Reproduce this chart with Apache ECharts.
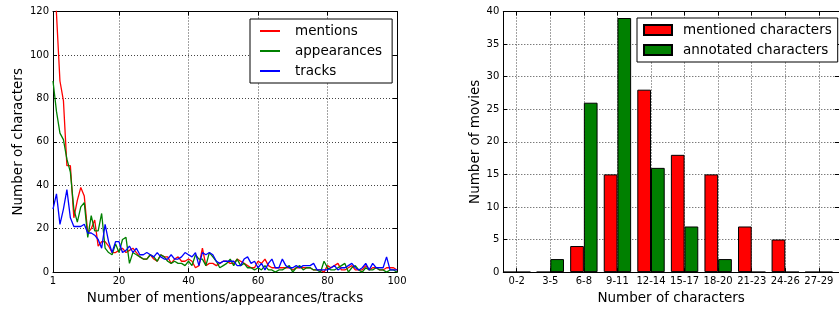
<!DOCTYPE html>
<html><head><meta charset="utf-8">
<script src="https://cdn.jsdelivr.net/npm/echarts@6/dist/echarts.min.js"></script>
<style>html,body{margin:0;padding:0;background:#fff}#c{width:839px;height:310px}</style>
</head><body><div id="c"></div><script>
// Left chart: number of characters vs count (x = 1..100)
const mentions = [165,119,88,79,49,49,25,33,39,35,18,20,24,12,14,14,12,9,9,10,
  11,9,10,11,9,7,6,6,8,6,5,8,7,7,4,6,7,5,5,6,
  5,2,3,11,3,4,4,3,4,5,5,4,4,6,5,4,3,2,2,5,
  4,6,3,2,2,2,2,2,2,1,2,2,2,2,2,1,1,1,0,3,
  2,3,4,1,1,2,3,1,1,1,3,1,2,2,1,1,2,2,2,1];
const appearances = [88,74,64,61,52,46,29,23,30,32,16,26,19,19,27,11,9,8,13,9,
  15,16,4,9,8,7,6,6,8,7,5,8,7,5,4,5,4,4,3,5,
  3,8,6,6,3,9,7,5,2,3,4,6,3,6,3,4,2,2,1,2,
  1,3,1,1,0,1,1,2,3,0,2,3,1,2,2,1,1,0,5,2,
  1,1,2,3,4,0,2,3,1,0,2,1,1,2,1,1,0,1,1,0];
const tracks = [29,36,22,29,38,25,21,21,21,22,18,18,17,15,11,22,14,9,14,14,
  9,10,12,9,11,8,8,9,8,7,9,7,6,6,8,6,6,7,9,8,
  7,9,3,9,8,9,8,5,4,5,5,5,5,3,3,6,7,4,5,2,
  4,1,4,6,2,2,6,3,2,2,3,2,3,3,3,4,1,1,1,1,
  2,3,1,2,2,3,4,2,1,2,4,1,4,2,2,2,7,1,1,1];
const countTicks = [1,20,40,60,80,100];
const leftYTicks = {min:0, max:120, interval:20};

// Right chart: number of movies per character-count bin
const bins = ['0-2','3-5','6-8','9-11','12-14','15-17','18-20','21-23','24-26','27-29'];
const mentionedChars = [0,0,4,15,28,18,15,7,5,0];
const annotatedChars = [0,2,26,39,16,7,2,0,0,0];
const rightYTicks = {min:0, max:40, interval:5};

const FONT = 'DejaVu Sans';
const gridLine = {show:true, lineStyle:{color:'#444', type:[1,2], width:1}};
const tick = {show:true, inside:true, length:4, lineStyle:{color:'#000', width:1}};
const line = {show:true, onZero:false, lineStyle:{color:'#000', width:1}};
const lbl = {color:'#000', fontFamily:FONT, fontSize:10, margin:4};
const nameStyle = {color:'#000', fontFamily:FONT, fontSize:13.5};

const idx = bins.map((b,i)=>i);
const xs = mentions.map((v,i)=>i+1);

const chart = echarts.init(document.getElementById('c'), null, {renderer:'canvas'});
chart.setOption({
  animation:false,
  backgroundColor:'#fff',
  textStyle:{fontFamily:FONT},
  grid:[
    {left:53, top:11.5, width:344, height:266},
    {left:503.3, top:11.5, width:343.3, height:266}
  ],
  xAxis:[
    {type:'value', gridIndex:0, min:1, max:100, position:'bottom',
     axisLine:line, axisTick:Object.assign({customValues:countTicks}, tick),
     axisLabel:Object.assign({customValues:countTicks}, lbl), splitLine:gridLine,
     name:'Number of mentions/appearances/tracks', nameLocation:'middle', nameGap:16, nameTextStyle:nameStyle},
    {type:'value', gridIndex:0, min:1, max:100, position:'top',
     axisLine:line, axisTick:Object.assign({customValues:countTicks}, tick),
     axisLabel:{show:false}, splitLine:{show:false}},
    {type:'value', gridIndex:1, min:-0.4, max:9.6, position:'bottom',
     axisLine:line, axisTick:Object.assign({customValues:idx}, tick),
     axisLabel:Object.assign({customValues:idx, formatter:v=>bins[Math.round(v)]}, lbl), splitLine:gridLine,
     name:'Number of characters', nameLocation:'middle', nameGap:16, nameTextStyle:nameStyle},
    {type:'value', gridIndex:1, min:-0.4, max:9.6, position:'top',
     axisLine:line, axisTick:Object.assign({customValues:idx}, tick),
     axisLabel:{show:false}, splitLine:{show:false}}
  ],
  yAxis:[
    Object.assign({type:'value', gridIndex:0, position:'left',
     axisLine:line, axisTick:tick, axisLabel:lbl, splitLine:gridLine,
     name:'Number of characters', nameLocation:'middle', nameGap:28, nameTextStyle:nameStyle}, leftYTicks),
    Object.assign({type:'value', gridIndex:0, position:'right',
     axisLine:line, axisTick:tick, axisLabel:{show:false}, splitLine:{show:false}}, leftYTicks),
    Object.assign({type:'value', gridIndex:1, position:'left',
     axisLine:line, axisTick:tick, axisLabel:lbl, splitLine:gridLine,
     name:'Number of movies', nameLocation:'middle', nameGap:20, nameTextStyle:nameStyle}, rightYTicks),
    Object.assign({type:'value', gridIndex:1, position:'right',
     axisLine:line, axisTick:tick, axisLabel:{show:false}, splitLine:{show:false}}, rightYTicks)
  ],
  legend:[
    {data:['mentions','appearances','tracks'], orient:'vertical', left:250, top:19,
     padding:[5,10,5,10], itemGap:6, itemWidth:20, itemHeight:2, icon:'rect',
     backgroundColor:'#fff', borderColor:'#000', borderWidth:1, borderRadius:0,
     textStyle:{color:'#000', fontFamily:FONT, fontSize:13.5, lineHeight:14, padding:[0,0,0,10]}},
    {data:['mentioned characters','annotated characters'], orient:'vertical', left:637, top:18,
     padding:[5,6,5,6], itemGap:6, itemWidth:28, itemHeight:10, icon:'rect',
     backgroundColor:'#fff', borderColor:'#000', borderWidth:1, borderRadius:0,
     textStyle:{color:'#000', fontFamily:FONT, fontSize:13.5, lineHeight:14, padding:[0,0,0,6]}}
  ],
  series:[
    {name:'mentions', type:'line', xAxisIndex:0, yAxisIndex:0, showSymbol:false, symbol:'none',
     data:xs.map((x,i)=>[x, mentions[i]]), lineStyle:{color:'#ff0000', width:1.3}, itemStyle:{color:'#ff0000'}, z:2},
    {name:'appearances', type:'line', xAxisIndex:0, yAxisIndex:0, showSymbol:false, symbol:'none',
     data:xs.map((x,i)=>[x, appearances[i]]), lineStyle:{color:'#008000', width:1.3}, itemStyle:{color:'#008000'}, z:3},
    {name:'tracks', type:'line', xAxisIndex:0, yAxisIndex:0, showSymbol:false, symbol:'none',
     data:xs.map((x,i)=>[x, tracks[i]]), lineStyle:{color:'#0000ff', width:1.3}, itemStyle:{color:'#0000ff'}, z:4},
    {name:'mentioned characters', type:'bar', xAxisIndex:2, yAxisIndex:2, barWidth:13.7, barGap:'0%',
     data:idx.map(i=>[i, mentionedChars[i]]), itemStyle:{color:'#ff0000', borderColor:'#000', borderWidth:1}},
    {name:'annotated characters', type:'bar', xAxisIndex:2, yAxisIndex:2, barWidth:13.7, barGap:'0%',
     data:idx.map(i=>[i, annotatedChars[i]]), itemStyle:{color:'#008000', borderColor:'#000', borderWidth:1}}
  ]
});
</script></body></html>
